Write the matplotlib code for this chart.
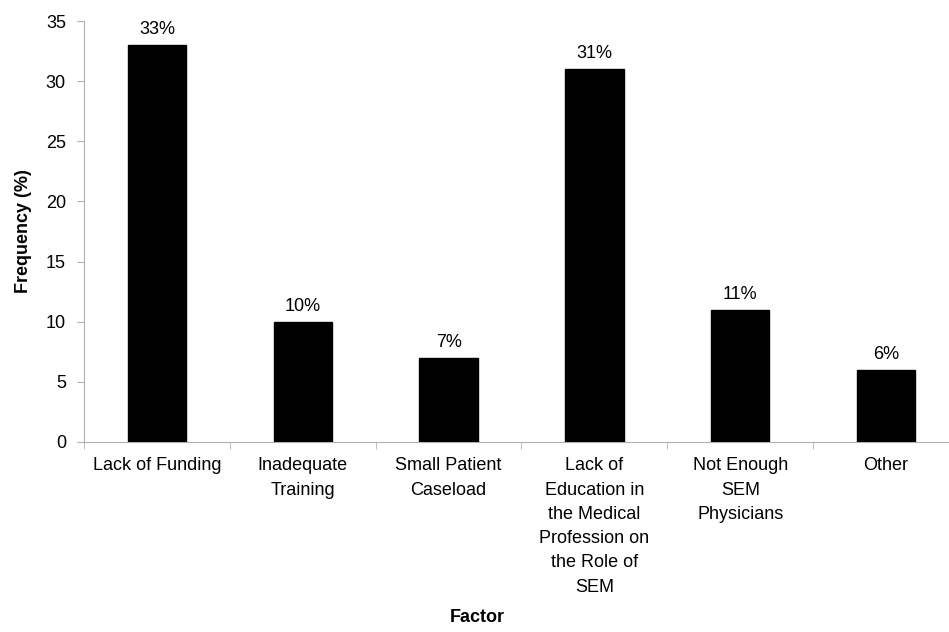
import numpy as np
import matplotlib
matplotlib.use("Agg")
from matplotlib import pyplot as plt

factors = ["Lack of Funding", "Inadequate\nTraining", "Small Patient\nCaseload",
           "Lack of\nEducation in\nthe Medical\nProfession on\nthe Role of\nSEM",
           "Not Enough\nSEM\nPhysicians", "Other"]
frequency = [33, 10, 7, 31, 11, 6]

plt.rcParams['font.family'] = ['Liberation Sans', 'DejaVu Sans']
fig = plt.figure(figsize=(9.49, 6.32), dpi=100)
ax = fig.add_axes([84 / 949, 190 / 632, 875 / 949, 421 / 632])

x = np.arange(len(factors))
bars = ax.bar(x, frequency, width=0.4, color='black', edgecolor='black', zorder=3)
for rect, val in zip(bars, frequency):
    ax.annotate(f'{val}%', (rect.get_x() + rect.get_width() / 2, val),
                xytext=(0, 5), textcoords='offset points',
                ha='center', va='bottom', fontsize=13)

ax.set_xlim(-0.5, len(factors) - 0.5)
ax.set_ylim(0, 35)
ax.set_yticks(np.arange(0, 36, 5))
ax.set_xticks(x)
ax.set_xticklabels(factors, fontsize=13, linespacing=1.56, va='top')
ax.set_xticks(np.arange(-0.5, len(factors), 1), minor=True)
ax.tick_params(axis='x', which='major', length=0, pad=11)
ax.tick_params(axis='x', which='minor', length=5, color='#b0b0b0')
ax.tick_params(axis='y', length=5, color='#b0b0b0', labelsize=13, pad=8)

for side in ['top', 'right']:
    ax.spines[side].set_visible(False)
for side in ['left', 'bottom']:
    ax.spines[side].set_color('#b0b0b0')

ax.set_ylabel('Frequency (%)', fontsize=13, fontweight='bold', labelpad=10)
fig.text(477 / 949, 1 - 618 / 632, 'Factor', ha='center', va='center',
         fontsize=13, fontweight='bold')

fig.savefig('out.png', dpi=100)
